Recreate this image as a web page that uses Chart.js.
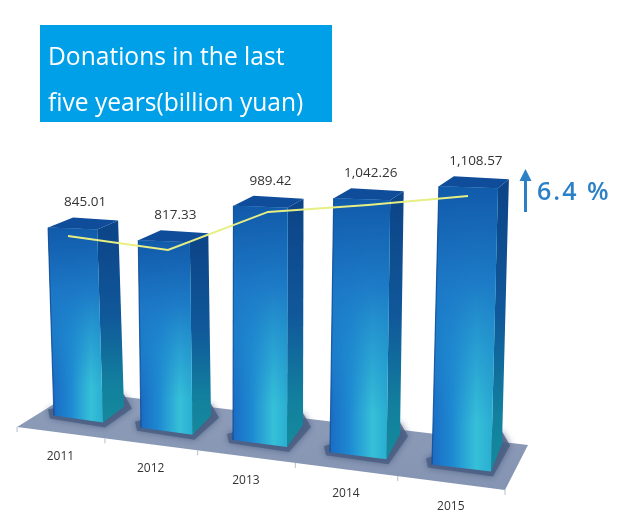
<!DOCTYPE html>
<html>
<head>
<meta charset="utf-8">
<style>
html, body { margin: 0; padding: 0; background: #fff; }
canvas { display: block; }
</style>
<script src="https://cdn.jsdelivr.net/npm/chart.js@4"></script>
</head>
<body>
<canvas id="chart" width="640" height="522"></canvas>
<script>
const years = ['2011', '2012', '2013', '2014', '2015'];
const donations = [845.01, 817.33, 989.42, 1042.26, 1108.57];
const trendLine = [845, 753, 1003, 1049, 1108];
const titleLines = ['Donations in the last', 'five years(billion yuan)'];
const growthLabel = '6.4 %';

const FONT = '"Open Sans", "Noto Sans", sans-serif';

// perspective helpers, t is the bar position from -2 to 2
function posOf(el) { return (el.x - 268) / 100; }
function floorX(t) { return 245.9 + 97.6 * t + 2.42 * t * t; }
function floorY(x) { return 427 + 0.129 * (x - 17); }

function poly(ctx, pts) {
    ctx.beginPath();
    pts.forEach((p, i) => i ? ctx.lineTo(p[0], p[1]) : ctx.moveTo(p[0], p[1]));
    ctx.closePath();
}

function barShape(el) {
    const t = posOf(el);
    const bottomCx = 268 + 94.5 * t + 2.5 * t * t;
    const lean = 3.2 * t + 0.5;
    const w = el.width;
    const side = 16 - 2.5 * t;
    const baseR = el.base - 27 + 12.2 * t;
    const baseL = baseR - 7;
    const h = (el.base - el.y) * (1 + 0.03 * t);
    const topL = baseL - h;
    const xb = bottomCx - w / 2;
    const xt = xb + lean;
    return {
        t, w, side, lean, xb, xt, baseL, baseR, topL,
        depth: 22 + 3 * t,
        backOff: 20 - 2.5 * t
    };
}

const sceneryPlugin = {
    id: 'scenery',
    beforeDraw(chart) {
        const ctx = chart.ctx;
        // title box
        ctx.save();
        ctx.fillStyle = '#00a0e9';
        ctx.fillRect(40, 25, 292, 97);
        ctx.fillStyle = '#fff';
        ctx.font = '24.6px ' + FONT;
        ctx.textBaseline = 'alphabetic';
        ctx.fillText(titleLines[0], 48, 65);
        ctx.fillText(titleLines[1], 48, 111);
        ctx.restore();
    },
    beforeDatasetsDraw(chart) {
        const ctx = chart.ctx;
        const bars = chart.getDatasetMeta(0).data;
        ctx.save();

        // floor
        poly(ctx, [[17, 427], [75, 391], [528, 445], [505, 490]]);
        const floor = ctx.createLinearGradient(0, 390, 0, 490);
        floor.addColorStop(0, '#8e9db9');
        floor.addColorStop(1, '#8494b2');
        ctx.fillStyle = floor;
        ctx.fill();

        // axis ticks on the front edge of the floor
        ctx.strokeStyle = '#b4bcca';
        ctx.lineWidth = 1;
        for (let i = 0; i <= years.length; i++) {
            const x = floorX(i - 2.5);
            const y = floorY(x);
            ctx.beginPath();
            ctx.moveTo(x, y);
            ctx.lineTo(x, y + 5);
            ctx.stroke();
        }

        bars.forEach((el) => {
            const s = barShape(el);
            const frontW = s.w - s.side;
            const fl = [s.xb, s.baseL];
            const fr = [s.xb + frontW, s.baseR];
            const br = [s.xb + s.w, s.baseR - s.depth];
            const tl = [s.xt, s.topL];
            const tr = [s.xt + frontW, s.topL + 2];
            const tbr = [s.xt + s.w, s.topL - 7];
            const tbl = [s.xt + s.backOff, s.topL - 10];

            // shadow on the floor
            ctx.save();
            ctx.shadowColor = 'rgba(60,80,115,0.8)';
            ctx.shadowBlur = 7;
            ctx.fillStyle = 'rgba(72,92,130,0.8)';
            poly(ctx, [[fl[0] - 6, fl[1] - 6], [fl[0] - 4, fl[1] + 3], [fr[0] + 2, fr[1] + 5], [br[0] + 8, br[1] + 2], [br[0], br[1] - 12]]);
            ctx.fill();
            ctx.restore();

            // side face
            const sideFill = ctx.createLinearGradient(0, tr[1], 0, fr[1]);
            sideFill.addColorStop(0, '#0c4588');
            sideFill.addColorStop(0.45, '#10589a');
            sideFill.addColorStop(0.8, '#12809e');
            sideFill.addColorStop(1, '#148a9c');
            ctx.fillStyle = sideFill;
            poly(ctx, [tr, tbr, br, fr]);
            ctx.fill();

            // front face, cyan streak with the darker top laid over it
            const across = ctx.createLinearGradient(fl[0], 0, fr[0], 0);
            across.addColorStop(0, '#1a6cc4');
            across.addColorStop(0.35, '#1e8ad2');
            across.addColorStop(0.75, '#36c0d8');
            across.addColorStop(1, '#2aaed2');
            ctx.fillStyle = across;
            poly(ctx, [tl, tr, fr, fl]);
            ctx.fill();
            const down = ctx.createLinearGradient(0, tl[1], 0, fl[1]);
            down.addColorStop(0, 'rgba(17,90,170,1)');
            down.addColorStop(0.35, 'rgba(28,120,198,0.95)');
            down.addColorStop(0.6, 'rgba(30,135,205,0.55)');
            down.addColorStop(0.85, 'rgba(30,135,205,0)');
            ctx.fillStyle = down;
            ctx.fill();
            ctx.strokeStyle = 'rgba(14,72,145,0.8)';
            ctx.lineWidth = 1.2;
            ctx.beginPath();
            ctx.moveTo(tl[0], tl[1]);
            ctx.lineTo(fl[0], fl[1]);
            ctx.stroke();

            // top face
            ctx.fillStyle = '#0f4c9a';
            poly(ctx, [tl, tbl, tbr, tr]);
            ctx.fill();
        });
        ctx.restore();
    },
    afterDatasetsDraw(chart) {
        const ctx = chart.ctx;
        const bars = chart.getDatasetMeta(0).data;
        const xScale = chart.scales.x;
        ctx.save();
        ctx.textAlign = 'center';
        ctx.textBaseline = 'middle';
        ctx.fillStyle = '#333';

        // value labels over the bars
        ctx.font = '13.5px ' + FONT;
        bars.forEach((el, i) => {
            const s = barShape(el);
            const label = donations[i].toLocaleString('en-US', { minimumFractionDigits: 2 });
            ctx.fillText(label, s.xt + s.w / 2 + 2, s.topL - 25);
        });

        // category labels follow the slanted floor
        ctx.font = '12px ' + FONT;
        bars.forEach((el, i) => {
            const x = floorX(posOf(el));
            ctx.fillText(xScale.getLabelForValue(i), x, floorY(x) + 24);
        });

        // growth arrow and label
        ctx.strokeStyle = '#2b80c6';
        ctx.fillStyle = '#2b80c6';
        ctx.lineWidth = 3;
        ctx.beginPath();
        ctx.moveTo(525.5, 212);
        ctx.lineTo(525.5, 176);
        ctx.stroke();
        poly(ctx, [[525.5, 169], [519.5, 181], [531.5, 181]]);
        ctx.fill();
        ctx.textAlign = 'left';
        ctx.font = '600 25px ' + FONT;
        ctx.letterSpacing = '2px';
        ctx.fillText(growthLabel, 537, 193);
        ctx.restore();
    }
};

new Chart(document.getElementById('chart'), {
    data: {
        labels: years,
        datasets: [{
            type: 'bar',
            data: donations,
            backgroundColor: 'transparent',
            barPercentage: 0.7,
            categoryPercentage: 1,
            order: 2
        }, {
            type: 'line',
            data: trendLine,
            yAxisID: 'trend',
            borderColor: '#e6ee84',
            borderWidth: 2,
            pointRadius: 0,
            tension: 0,
            order: 1
        }]
    },
    options: {
        responsive: false,
        animation: false,
        layout: { padding: { left: 18, right: 122, top: 190, bottom: 48 } },
        plugins: {
            legend: { display: false },
            title: { display: false },
            tooltip: { enabled: false }
        },
        scales: {
            x: { display: false },
            y: { display: false, min: 0, max: 1200 },
            trend: { display: false, min: -721, max: 1147 }
        }
    },
    plugins: [sceneryPlugin]
});
</script>
</body>
</html>
